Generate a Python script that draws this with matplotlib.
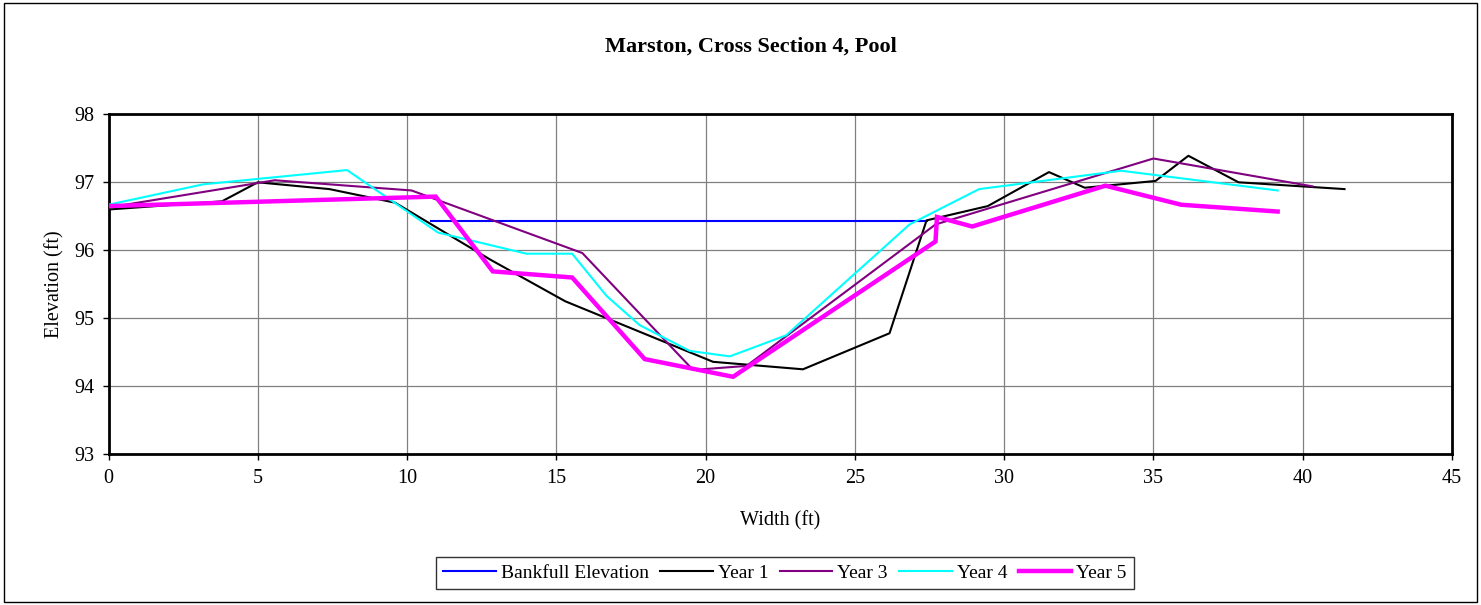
import matplotlib
matplotlib.use("Agg")
import matplotlib.pyplot as plt
from matplotlib.patches import Rectangle

plt.rcParams['font.family'] = ['Liberation Serif', 'DejaVu Serif']

title = "Marston, Cross Section 4, Pool"
x_label = "Width (ft)"
y_label = "Elevation (ft)"

bankfull_x = [10.8, 15.3, 20.25, 23.26, 26.16, 27.4]
bankfull_y = [96.43, 96.43, 96.43, 96.43, 96.43, 96.43]

year1_x = [0, 3.8, 5.0, 7.4, 9.6, 12.8, 15.3, 20.25, 23.26, 26.16, 27.4, 29.45,
           31.5, 32.7, 35.07, 36.17, 37.85, 41.4]
year1_y = [96.60, 96.72, 97.00, 96.90, 96.70, 95.86, 95.25, 94.36, 94.25, 94.78,
           96.44, 96.65, 97.15, 96.92, 97.02, 97.39, 97.00, 96.90]

year3_x = [0, 5.57, 10.15, 15.87, 19.58, 21.37, 27.7, 35.0, 40.33]
year3_y = [96.63, 97.03, 96.88, 95.96, 94.24, 94.30, 96.38, 97.35, 96.94]

year4_x = [0, 3.17, 7.99, 11.04, 14.0, 15.53, 16.68, 17.79, 19.47, 20.81, 22.7,
           26.83, 29.16, 33.92, 39.16]
year4_y = [96.67, 96.97, 97.18, 96.26, 95.95, 95.95, 95.33, 94.90, 94.52, 94.44,
           94.75, 96.38, 96.90, 97.17, 96.88]

year5_x = [0, 10.96, 12.87, 15.53, 17.96, 20.92, 27.70, 27.75, 28.93, 33.39,
           35.93, 39.16]
year5_y = [96.65, 96.79, 95.69, 95.60, 94.40, 94.14, 96.13, 96.49, 96.35, 96.95,
           96.67, 96.57]

x_ticks = [0, 5, 10, 15, 20, 25, 30, 35, 40, 45]
y_ticks = [93, 94, 95, 96, 97, 98]

W, H = 1481, 605
fig = plt.figure(figsize=(W / 100, H / 100), dpi=100)
ax = fig.add_axes([108.5 / W, 1 - 454.3 / H, (1452 - 108.5) / W, (454.3 - 114.3) / H])

ax.plot(bankfull_x, bankfull_y, color='#0000FF', lw=1.5, label='Bankfull Elevation', zorder=3)
ax.plot(year1_x, year1_y, color='black', lw=1.5, label='Year 1', zorder=4)
ax.plot(year3_x, year3_y, color='#800080', lw=1.5, label='Year 3', zorder=4)
ax.plot(year4_x, year4_y, color='#00FFFF', lw=1.5, label='Year 4', zorder=4)
ax.plot(year5_x, year5_y, color='#FF00FF', lw=3.2, label='Year 5', zorder=5,
        solid_joinstyle='miter')

ax.set_xlim(0, 45)
ax.set_ylim(93, 98)
ax.set_xticks(x_ticks)
ax.set_yticks(y_ticks)
ax.grid(True, color='#808080', lw=0.9)
ax.set_axisbelow(True)
for s in ax.spines.values():
    s.set_linewidth(2)
    s.set_color('black')
ax.tick_params(direction='out', length=4.3, width=1, labelsize=14.5, pad=6)

ax.set_xlabel(x_label, fontsize=14.5, labelpad=17)
ax.set_ylabel(y_label, fontsize=14.5, labelpad=7)

fig.text(751 / W, 1 - 47 / H, title, ha='center', va='center', fontsize=16, fontweight='bold')

leg = fig.legend(loc='center', bbox_to_anchor=(785 / W, 1 - 573 / H), ncol=5,
                 fontsize=14, frameon=True, fancybox=False, edgecolor='black',
                 handlelength=2.7, handletextpad=0.25, columnspacing=0.6,
                 borderpad=0.35)
leg.get_frame().set_linewidth(1)

fig.patches.append(Rectangle((4 / W, 3 / H), (1477 - 4) / W, (602 - 3) / H,
                             transform=fig.transFigure, fill=False, edgecolor='black',
                             lw=1))

fig.savefig('out.png', dpi=100)
